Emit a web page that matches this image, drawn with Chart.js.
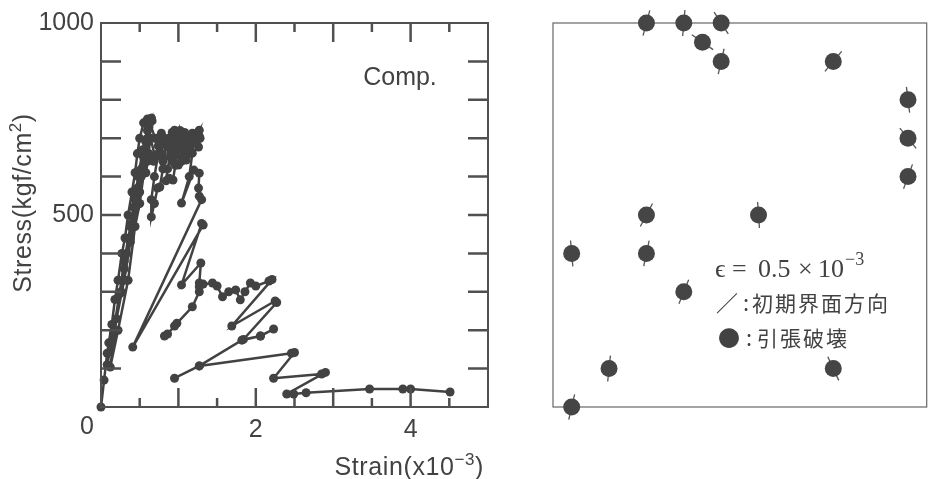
<!DOCTYPE html>
<html>
<head>
<meta charset="utf-8">
<script src="https://cdn.jsdelivr.net/npm/chart.js@4.4.0/dist/chart.umd.min.js"></script>
<style>
  html, body { margin: 0; padding: 0; background: #fff; }
  #wrap { position: relative; width: 941px; height: 479px; }
  #stressChart { position: absolute; left: 0; top: 0; }
  #mapChart { position: absolute; left: 520px; top: 0; }
</style>
</head>
<body>
<div id="wrap">
  <canvas id="stressChart" width="520" height="479"></canvas>
  <canvas id="mapChart" width="421" height="479"></canvas>
</div>
<script>
const INK = '#424242';
const SANS = '"Liberation Sans", Arial, sans-serif';
const SERIF = '"Liberation Serif", "DejaVu Serif", serif';
const CJK = '"Noto Sans CJK JP", sans-serif';

// 応力-ひずみ曲線 (ひずみ x10^-3, 応力 kgf/cm2) -- null で線を切る
const strain = [
  0, 0.04, 0.08, 0.1, 0.14, 0.18, 0.22, 0.27, 0.31, 0.35, 0.4, 0.44, 0.47, 0.5, 0.55, 0.6,
  0.63, 0.65, 0.5, 0.44, 0.35, 0.22, 0.12, 0.18, 0.25, 0.3, 0.36, 0.42, 0.48, 0.54, 0.6, 0.65,
  0.6, 0.52, 0.45, 0.38, 0.3, 0.2, 0.26, 0.33, 0.4, 0.47, 0.55, 0.62, 0.66,
  0.5, 0.38, 0.28, 0.16, 0.08, 0.14, 0.24, 0.3, 0.38, 0.44, 0.52, 0.58, 0.63,
  0.7, 0.78, 0.74, 0.69, 0.65, 0.65, 0.69, 0.73, 0.76, 0.8, 0.78, 0.82, 0.85, 0.88, 0.92, 0.95,
  0.93, 0.9, 0.86, 0.84, 0.88, 0.93, 0.96, 0.98, 1.0, 1.02, 1.04, 1.06, 1.08, 1.06, 1.04, 1.0,
  1.04, 1.1, 1.12, 1.13, 1.16, 1.18, 1.15, 1.1, 1.2, 1.25, 1.27,
  1.22, 1.16, 1.1, 1.05, 1.0, 0.95, 0.9, 0.85, 0.8, 0.75, 0.7, 0.64, 0.6, 0.58,
  0.62, 0.68, 0.74, 0.8, 0.86, 0.92, 0.98, 1.04, 1.1, 1.16, 1.22, 1.27,
  1.28, 1.26, 1.18, 1.14, 1.04, 1.2, 1.27, 1.26, 1.27, 1.3,
  0.41, 1.32, 1.3, 1.04, 1.29, 1.27, 1.32, 1.44, 1.5, 1.57, 1.65, 1.74, 1.8, 1.86, 1.93, 2.0,
  2.17, 2.21, 1.69, 2.25, 2.27, 1.84, 2.06, 2.23, 2.06, 1.82, 1.27, 0.95, 1.27, 2.46, 2.5,
  2.23, 2.85, 2.9, 2.4, 2.49, 2.65, 3.47, 3.9, 4.0, 4.51,
  null,
  0.82, 0.86, 0.95, 0.98, 1.18, 1.27, 1.27
];
const stress = [
  0, 70, 140, 167, 215, 280, 330, 400, 440, 500, 560, 610, 660, 700, 740, 750,
  745, 752, 530, 470, 330, 200, 104, 200, 296, 360, 440, 520, 600, 670, 720, 752,
  700, 600, 520, 430, 330, 230, 300, 400, 480, 570, 650, 730, 745,
  560, 440, 330, 190, 110, 170, 296, 380, 470, 540, 620, 690, 740,
  700, 713, 660, 600, 540, 495, 530, 570, 573, 620, 660, 700, 690, 700, 715, 721,
  690, 660, 620, 589, 596, 591, 630, 660, 680, 720, 705, 700, 715, 680, 660, 630,
  640, 643, 665, 680, 700, 713, 670, 700, 705, 715, 721,
  690, 700, 670, 690, 660, 690, 650, 680, 640, 690, 650, 700, 640, 610,
  660, 640, 680, 650, 690, 640, 700, 650, 690, 660, 700, 705,
  700, 677, 661, 600, 531, 617, 609, 570, 549, 540,
  156, 474, 478, 318, 375, 323, 320, 323, 315, 287, 300, 305, 279, 300, 323, 315,
  328, 332, 211, 276, 272, 176, 185, 203, 185, 174, 107, 75, 107, 140, 142,
  75, 86, 90, 34, 34, 37, 47, 47, 47, 39,
  null,
  185, 190, 211, 218, 261, 300, 313
];
const stressLabels = [500, 1000];
const strainLabels = [2, 4];

// 右図: 引張破壊した要素の位置と初期界面方向 (度)
const cellX = [2.5, 3.5, 4.5, 4, 4.5, 7.5, 9.5, 9.5, 9.5, 2.5, 5.5, 0.5, 2.5, 3.5, 1.5, 7.5, 0.5];
const cellY = [10, 10, 10, 9.5, 9, 9, 8, 7, 6, 5, 5, 4, 4, 3, 1, 1, 0];
const interfaceAngle = [-75, -85, 57, 35, -77, -50, 83, 51, -70, -62, 86, 85, -78, -68, -84, 65, -77];

// 上付き文字付きのテキスト
function drawParts(ctx, parts, x, y, size, family, align) {
  const widths = parts.map(p => {
    ctx.font = `${p.sup ? Math.round(size * 0.68) : size}px ${family}`;
    return ctx.measureText(p.t).width;
  });
  const total = widths.reduce((a, b) => a + b, 0);
  let cx = align === 'right' ? x - total : align === 'center' ? x - total / 2 : x;
  ctx.textAlign = 'left';
  parts.forEach((p, i) => {
    ctx.font = `${p.sup ? Math.round(size * 0.68) : size}px ${family}`;
    ctx.fillText(p.t, cx, p.sup ? y - size * 0.42 : y);
    cx += widths[i];
  });
}

const stressFrame = {
  id: 'stressFrame',
  afterDraw(chart) {
    const { ctx, chartArea: a, scales: { x, y } } = chart;
    ctx.save();
    ctx.strokeStyle = '#505050';
    ctx.lineWidth = 2;
    ctx.strokeRect(a.left, a.top, a.width, a.height);
    ctx.lineWidth = 2.5;
    ctx.beginPath();
    y.ticks.forEach(t => {
      if (t.value <= 0 || t.value >= 1000) return;
      const py = y.getPixelForValue(t.value);
      ctx.moveTo(a.left, py); ctx.lineTo(a.left + 20, py);
      ctx.moveTo(a.right, py); ctx.lineTo(a.right - 20, py);
    });
    x.ticks.forEach(t => {
      if (t.value <= 0 || t.value >= 5) return;
      const px = x.getPixelForValue(t.value);
      const len = Number.isInteger(t.value) ? 19 : 9;
      ctx.moveTo(px, a.bottom); ctx.lineTo(px, a.bottom - len);
      ctx.moveTo(px, a.top); ctx.lineTo(px, a.top + len);
    });
    ctx.stroke();

    ctx.fillStyle = INK;
    ctx.textBaseline = 'middle';
    ctx.font = `25px ${SANS}`;
    ctx.textAlign = 'right';
    ctx.fillText('0', a.left - 7, y.getPixelForValue(0) + 20);
    ctx.textAlign = 'center';
    ctx.fillText('Comp.', 400, 78);

    ctx.textBaseline = 'alphabetic';
    ctx.letterSpacing = '0.6px';
    drawParts(ctx, [{ t: 'Strain(x10' }, { t: '\u22123', sup: true }, { t: ')' }], 484, 475, 25, SANS, 'right');

    ctx.save();
    ctx.translate(31, 203);
    ctx.rotate(-Math.PI / 2);
    drawParts(ctx, [{ t: 'Stress(kgf/cm' }, { t: '2', sup: true }, { t: ')' }], 0, 0, 25, SANS, 'center');
    ctx.restore();
    ctx.restore();
  }
};

new Chart(document.getElementById('stressChart'), {
  type: 'scatter',
  data: {
    datasets: [{
      data: strain.map((s, i) => ({ x: s, y: stress[i] })),
      showLine: true,
      borderColor: INK,
      backgroundColor: INK,
      borderWidth: 2.5,
      pointRadius: 4.5,
      pointBorderWidth: 0,
      spanGaps: false,
      clip: false
    }]
  },
  options: {
    responsive: false,
    animation: false,
    devicePixelRatio: 1,
    layout: { padding: { top: 23, right: 32, bottom: 0, left: 0 } },
    plugins: { legend: { display: false }, tooltip: { enabled: false } },
    scales: {
      x: {
        type: 'linear', min: 0, max: 5,
        grid: { display: false, drawTicks: false },
        border: { display: false },
        afterFit: s => { s.height = 72; },
        ticks: {
          stepSize: 0.5, autoSkip: false, padding: 8, color: INK,
          font: { family: SANS, size: 25 },
          callback: v => strainLabels.includes(v) ? String(v) : ''
        }
      },
      y: {
        type: 'linear', min: 0, max: 1000,
        grid: { display: false, drawTicks: false },
        border: { display: false },
        afterFit: s => { s.width = 101; },
        ticks: {
          stepSize: 100, autoSkip: false, padding: 7, color: INK,
          font: { family: SANS, size: 25 },
          callback: v => stressLabels.includes(v) ? String(v) : ''
        }
      }
    }
  },
  plugins: [stressFrame]
});

const mapFrame = {
  id: 'mapFrame',
  beforeDatasetsDraw(chart) {
    const { ctx, chartArea: a } = chart;
    ctx.save();
    ctx.strokeStyle = '#666';
    ctx.lineWidth = 1.2;
    ctx.strokeRect(a.left, a.top, a.width, a.height);
    ctx.restore();
  },
  afterDraw(chart) {
    const { ctx } = chart;
    ctx.save();
    ctx.fillStyle = INK;
    ctx.textBaseline = 'alphabetic';
    ctx.textAlign = 'left';
    ctx.font = `26px ${SERIF}`;
    ctx.fillText('\u03F5', 195, 277);
    ctx.fillText('=', 212, 277);
    ctx.fillText('0.5', 238, 277);
    ctx.fillText('\u00D7', 278, 277);
    ctx.fillText('10', 298, 277);
    ctx.font = `18px ${SERIF}`;
    ctx.fillText('\u22123', 325, 265);

    ctx.textBaseline = 'middle';
    ctx.font = `22px ${CJK}`;
    ctx.fillText('\uFF0F', 196, 303);
    ctx.fillText(':', 223, 303);
    ctx.fillText('\u25CF', 198, 338);
    ctx.fillText(':', 226, 338);
    ctx.letterSpacing = '2px';
    ctx.font = `21px ${CJK}`;
    ctx.fillText('初期界面方向', 232, 303);
    ctx.fillText('引張破壊', 237, 338);
    ctx.restore();
  }
};

const cells = cellX.map((x, i) => ({ x, y: cellY[i] }));

new Chart(document.getElementById('mapChart'), {
  type: 'scatter',
  data: {
    datasets: [
      {
        data: cells,
        pointStyle: 'circle',
        pointRadius: 8.5,
        backgroundColor: '#454545',
        borderColor: '#454545',
        pointBorderWidth: 0,
        order: 0,
        clip: false
      },
      {
        data: cells,
        pointStyle: 'line',
        pointRadius: 13,
        rotation: interfaceAngle,
        borderColor: '#555',
        pointBorderWidth: 1.3,
        order: 1,
        clip: false
      }
    ]
  },
  options: {
    responsive: false,
    animation: false,
    devicePixelRatio: 1,
    layout: { padding: { top: 23, right: 2, bottom: 72, left: 33 } },
    plugins: { legend: { display: false }, tooltip: { enabled: false } },
    scales: {
      x: { type: 'linear', min: 0, max: 10, display: false },
      y: { type: 'linear', min: 0, max: 10, display: false }
    }
  },
  plugins: [mapFrame]
});
</script>
</body>
</html>
